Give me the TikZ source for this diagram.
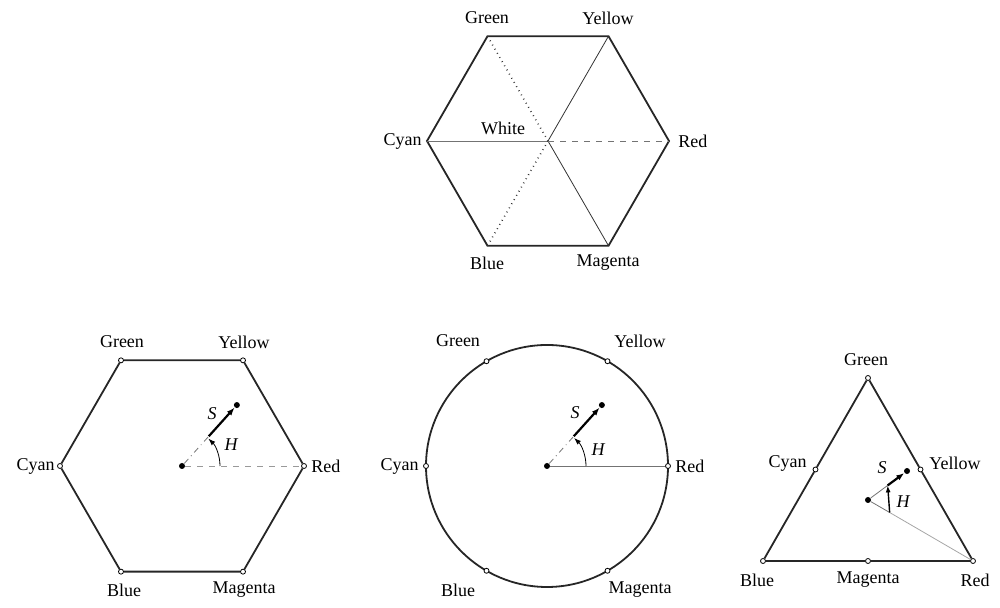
\documentclass[tikz,border=0pt]{standalone}
\usepackage{fontspec}
\setmainfont{Liberation Serif}
\usetikzlibrary{arrows.meta,calc,positioning}
\begin{document}
\begin{tikzpicture}[x=0.5pt,y=0.5pt,
  vtx/.style={circle,draw,fill=white,inner sep=0pt,minimum size=2.5pt,line width=0.4pt},
  pt/.style={circle,fill,inner sep=0pt,minimum size=3pt},
  lbl/.style={font=\fontsize{9}{10}\selectfont,inner sep=1pt},
  rim/.style={line width=0.9pt,black!85},
  ray/.style={line width=0.4pt,black!55},
  sarrow/.style={line width=1.1pt,-{Latex[length=4pt,width=3pt]}},
  harrow/.style={line width=0.4pt,-{Latex[length=3.5pt,width=2.5pt]}}]
\useasboundingbox (0,0) rectangle (1000,608);

% Top hexagon (cube seen along the diagonal)
\coordinate (tW) at (548,467);
\foreach \n/\a in {R/0,Y/60,G/120,C/180,B/240,M/300}
  \coordinate (t\n) at ($(tW)+(\a:121)$);
\draw[rim] (tR) -- (tY) -- (tG) -- (tC) -- (tB) -- (tM) -- cycle;
\draw[ray] (tC) -- (tW);
\draw[ray,black!80] (tW) -- (tY) (tW) -- (tM);
\draw[ray,black!80,dotted,line width=0.8pt] (tW) -- (tG) (tW) -- (tB);
\draw[ray,dashed] (tW) -- (tR);
\node[lbl] (tGreen) at (487,590) {Green};
\node[lbl] (tYellow) at (608,590) {Yellow};
\node[lbl,anchor=east] (tCyan) at (424,467) {Cyan};
\node[lbl,anchor=west] (tRed) at (676,467) {Red};
\node[lbl] (tWhite) at (503,480) {White};
\node[lbl] (tBlue) at (487,345) {Blue};
\node[lbl] (tMagenta) at (608,345) {Magenta};

% Hexagon
\node[pt] (hO) at (182,142) {};
\foreach \n/\a in {R/0,Y/60,G/120,C/180,B/240,M/300}
  \node[vtx] (h\n) at ($(hO)+(\a:122)$) {};
\draw[rim] (hR) -- (hY) -- (hG) -- (hC) -- (hB) -- (hM) -- (hR);
\draw[ray,dashed,black!40] (hO) -- (hR);
\coordinate (hA) at ($(hO)+(48:40)$);
\coordinate (hH) at ($(hO)+(38,0)$);
\node[pt] (hS) at ($(hO)+(48:82)$) {};
\draw[ray,dash dot] (hO) -- (hA);
\draw[sarrow] (hA) -- (hS);
\draw[harrow] (hH) arc[start angle=0,end angle=46,radius=38];
\node[lbl] (hGreen) at (122,266) {Green};
\node[lbl] (hYellow) at (244,266) {Yellow};
\node[lbl,left=0pt of hC] (hCyan) {Cyan};
\node[lbl,right=1pt of hR] (hRed) {Red};
\node[lbl] (hBlue) at (124,18) {Blue};
\node[lbl] (hMagenta) at (244,18) {Magenta};
\node[lbl] (hSl) at (212,194) {\itshape S};
\node[lbl] (hHl) at (231,163) {\itshape H};

% Circle
\node[pt] (cO) at (547,142) {};
\draw[rim] (cO) circle[radius=121];
\foreach \n/\a in {R/0,Y/60,G/120,C/180,B/240,M/300}
  \node[vtx] (c\n) at ($(cO)+(\a:121)$) {};
\draw[ray] (cO) -- (cR);
\coordinate (cA) at ($(cO)+(48:40)$);
\coordinate (cH) at ($(cO)+(39,0)$);
\node[pt] (cS) at ($(cO)+(48:82)$) {};
\draw[ray,dash dot] (cO) -- (cA);
\draw[sarrow] (cA) -- (cS);
\draw[harrow] (cH) arc[start angle=0,end angle=46,radius=39];
\node[lbl] (cGreen) at (458,267) {Green};
\node[lbl] (cYellow) at (640,267) {Yellow};
\node[lbl,left=1pt of cC] (cCyan) {Cyan};
\node[lbl,right=1pt of cR] (cRed) {Red};
\node[lbl] (cBlue) at (458,18) {Blue};
\node[lbl] (cMagenta) at (640,18) {Magenta};
\node[lbl] (cSl) at (575,195) {\itshape S};
\node[lbl] (cHl) at (598,158) {\itshape H};

% Triangle
\node[vtx] (rB) at (763,47) {};
\node[vtx] (rR) at (973,47) {};
\node[vtx] (rG) at (868,230) {};
\node[vtx] (rC) at (815.5,138.5) {};
\node[vtx] (rY) at (920.5,138.5) {};
\node[vtx] (rM) at (868,47) {};
\draw[rim] (rB) -- (rM) -- (rR) -- (rY) -- (rG) -- (rC) -- (rB);
\node[pt] (rO) at (868,108) {};
\coordinate (rP) at ($(rO)+(-30:25)$);
\coordinate (rA) at ($(rO)+(36.6:24.5)$);
\node[pt] (rS) at ($(rO)+(36.6:48.6)$) {};
\draw[ray] (rO) -- (rP) (rO) -- (rA);
\draw[ray,black!35] (rP) -- (rR);
\draw[harrow,line width=0.7pt] (rP) -- (rA);
\draw[sarrow] (rA) -- (rS);
\node[lbl] (rGreen) at (866,248) {Green};
\node[lbl,anchor=east] (rCyan) at (809,145) {Cyan};
\node[lbl,anchor=west] (rYellow) at (927,145) {Yellow};
\node[lbl] (rBlue) at (757,28) {Blue};
\node[lbl] (rMagenta) at (868,28) {Magenta};
\node[lbl] (rRed) at (975,28) {Red};
\node[lbl] (rSl) at (882,140) {\itshape S};
\node[lbl] (rHl) at (903,106) {\itshape H};
\end{tikzpicture}
\end{document}
